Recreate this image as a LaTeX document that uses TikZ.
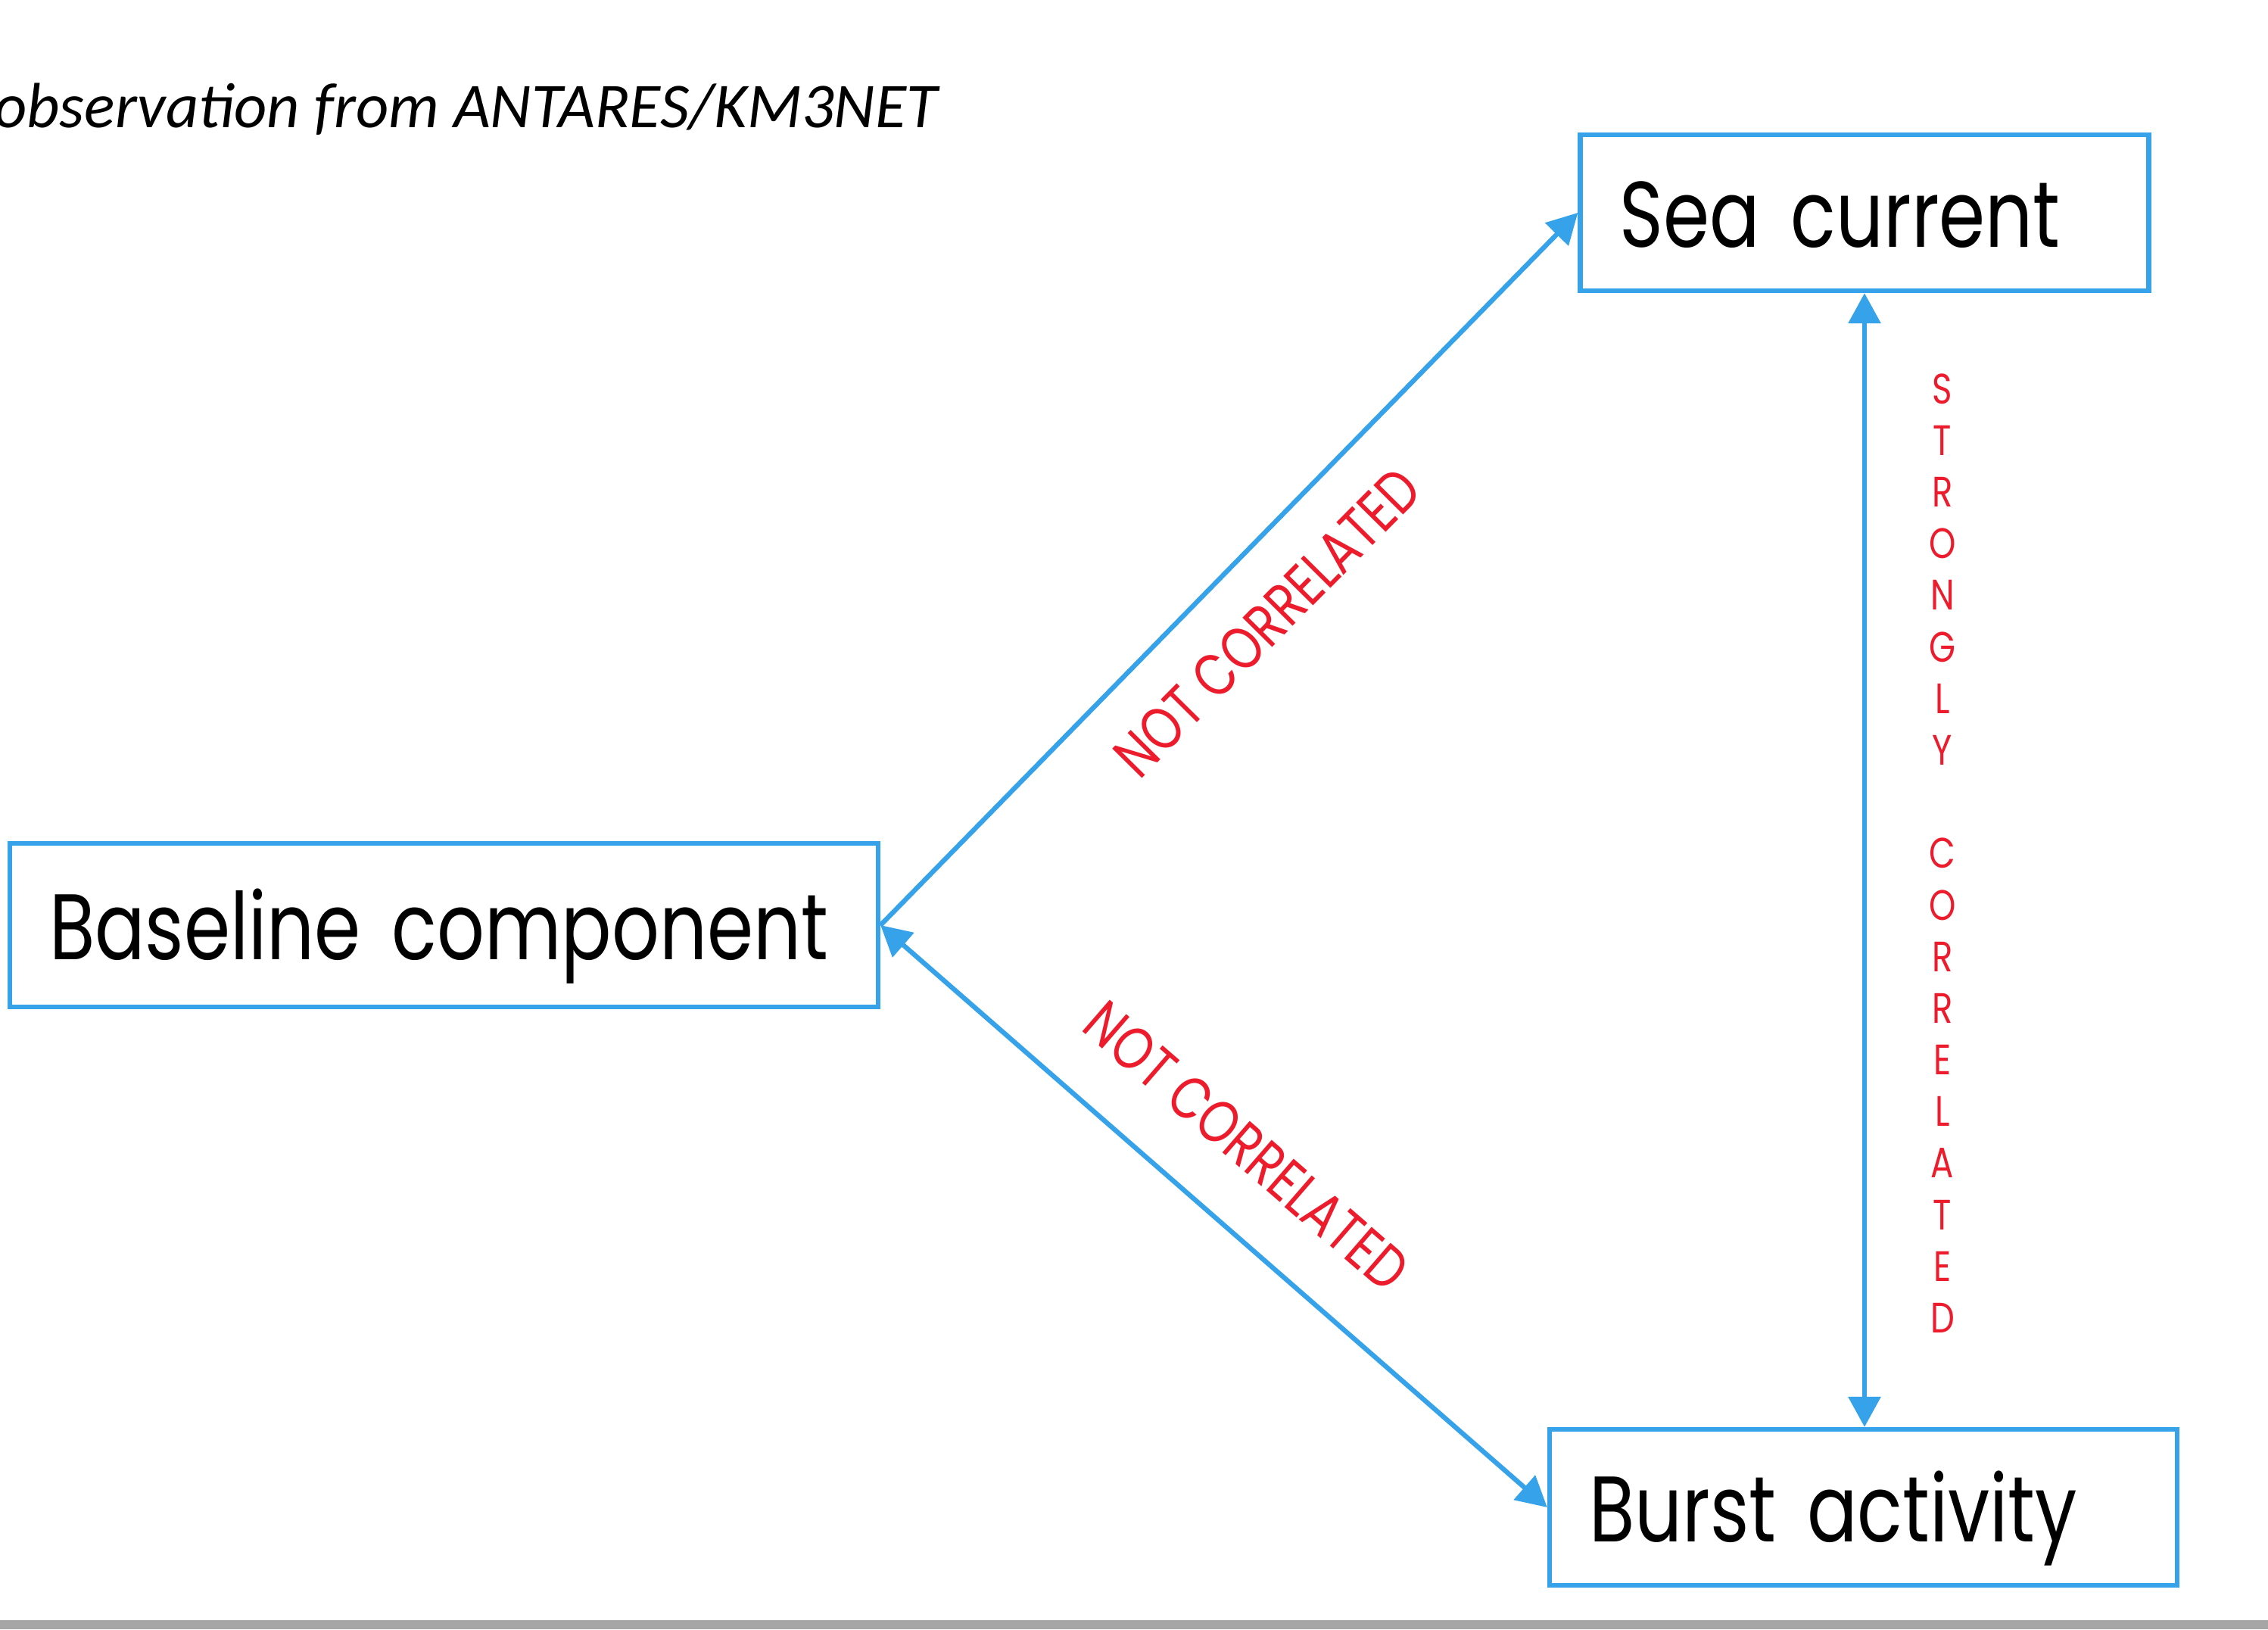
\documentclass[tikz,border=0pt]{standalone}
\usepackage{fontspec}
\usepackage{tikz}
\usetikzlibrary{arrows.meta}
\setmainfont{Carlito}
\newfontfamily\boxfont[FakeStretch=0.8]{Poppins}
\definecolor{linkblue}{RGB}{53,162,233}
\definecolor{labred}{RGB}{237,28,45}

\begin{document}
\begin{tikzpicture}[every node/.style={inner sep=0pt}, >={Triangle[length=4mm, width=4.2mm]}, box/.style={draw=linkblue, line width=1.8pt, minimum height=2.06cm, inner xsep=0.52cm, text width=#1, text height=0.9cm, text depth=0pt, align=left, font=\boxfont\fontsize{35}{40}\selectfont}, link/.style={linkblue, line width=1.8pt}, lab/.style={labred, font=\boxfont\fontsize{22.5}{27}\selectfont}]
	\useasboundingbox (0,0) rectangle (29.96,-21.52);
	\clip (0,0) rectangle (29.96,-21.52);
	\fill[gray!70] (0,-21.40) rectangle (29.96,-21.52);
	\node[anchor=base west, font=\itshape\fontsize{24}{29}\selectfont] (title) at (-0.08,-1.68) {observation from ANTARES/KM3NET};
	\node[box=6.47cm] (sea) at (24.63,-2.81) {Sea current};
	\node[box=10.43cm, minimum height=2.16cm] (base) at (5.865,-12.22) {\mbox{Baseline component}};
	\node[box=7.25cm] (burst) at (24.615,-19.91) {Burst activity};
	\draw[link, ->] (base.east) -- (sea.west);
	\draw[link, <->] (base.east) -- (burst.west);
	\draw[link, <->] (sea.south) -- (sea.south |- burst.north);
	\node[lab, rotate=45.3] (notup) at (16.74,-8.22) {NOT CORRELATED};
	\node[lab, rotate=-40.9] (notdown) at (16.47,-15.14) {NOT CORRELATED};
	\node[lab, font=\boxfont\fontsize{16}{19.4}\selectfont, align=center] (strong) at (25.66,-11.27) {S\\T\\R\\O\\N\\G\\L\\Y\\[19.4pt]C\\O\\R\\R\\E\\L\\A\\T\\E\\D};
\end{tikzpicture}
\end{document}
